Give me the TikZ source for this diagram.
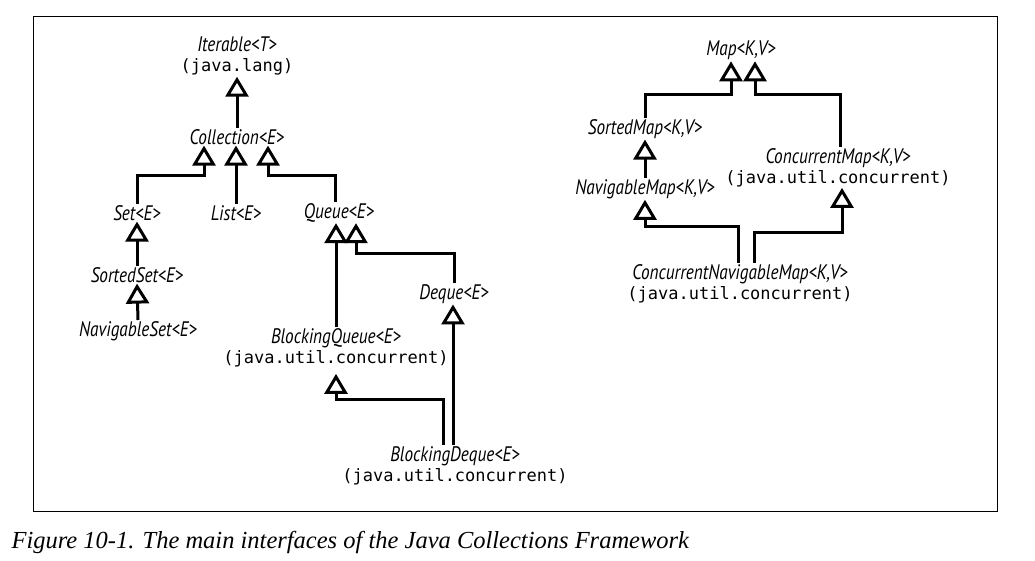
\documentclass[tikz,border=0pt]{standalone}
\usepackage{fontspec}
\setmainfont{Liberation Serif}
\newfontfamily\ifacefont[FakeStretch=0.82]{PT Sans}
\newfontfamily\pkgfont{DejaVu Sans Mono}
\usetikzlibrary{arrows.meta}

\newcommand{\pkgline}{{\pkgfont\upshape\fontsize{17}{20}\selectfont(java.util.concurrent)}}

\tikzset{
  iface/.style={font=\ifacefont\itshape\fontsize{21}{20}\selectfont, inner sep=1pt, anchor=north, align=center},
  inh/.style={-{Triangle[open,width=23pt,length=20pt]}, line width=3pt},
}

\begin{document}
\begin{tikzpicture}[x=1pt,y=-1pt]
  \useasboundingbox (0,0) rectangle (1035,561);
  \draw [line width=1pt] (33,17) rectangle (997,511);

  % collections
  \node [iface] (iter) at (237,36) {Iterable<T>\\{\pkgfont\upshape\fontsize{17}{20}\selectfont(java.lang)}};
  \node [iface] (coll) at (237,128) {Collection<E>};
  \node [iface] (set) at (137,204) {Set<E>};
  \node [iface] (list) at (236,204) {List<E>};
  \node [iface] (queue) at (339,202) {Queue<E>};
  \node [iface] (sset) at (137,266) {SortedSet<E>};
  \node [iface] (nset) at (138,320) {NavigableSet<E>};
  \node [iface] (deque) at (454,283) {Deque<E>};
  \node [iface] (bq) at (336,327) {BlockingQueue<E>\\\pkgline};
  \node [iface] (bd) at (455,445) {BlockingDeque<E>\\\pkgline};

  \draw [inh] (coll.north) -- (iter.south);
  \draw [inh] (set.north) |- ([xshift=-33pt,yshift=-30pt]coll.south) -- ([xshift=-33pt]coll.south);
  \draw [inh] (list.north) -- (list.north |- coll.south);
  \draw [inh] ([xshift=-4pt]queue.north) |- ([xshift=31pt,yshift=-30pt]coll.south) -- ([xshift=31pt]coll.south);
  \draw [inh] (sset.north) -- (set.south);
  \draw [inh] (nset.north) -- (sset.south);
  \draw [inh] (bq.north) -- (bq.north |- queue.south);
  \draw [inh] (deque.north) |- ([xshift=17pt,yshift=-30pt]queue.south) -- ([xshift=17pt]queue.south);
  \draw [inh] ([xshift=-2pt]bd.north) -- ([xshift=-1pt]deque.south);
  \draw [inh] ([xshift=-12pt]bd.north) |- ([yshift=-32pt]bq.south) -- ([yshift=-6pt]bq.south);

  % maps
  \node [iface] (map) at (741,40) {Map<K,V>};
  \node [iface] (smap) at (645,118) {SortedMap<K,V>};
  \node [iface] (nmap) at (645,178) {NavigableMap<K,V>};
  \node [iface] (cmap) at (838,147) {ConcurrentMap<K,V>\\\pkgline};
  \node [iface] (cnm) at (740,263) {ConcurrentNavigableMap<K,V>\\\pkgline};

  \draw [inh] (smap.north) |- ([xshift=-10pt,yshift=-33pt]map.south) -- ([xshift=-10pt]map.south);
  \draw [inh] ([xshift=2pt]cmap.north) |- ([xshift=14pt,yshift=-33pt]map.south) -- ([xshift=14pt]map.south);
  \draw [inh] (nmap.north) -- (smap.south);
  \draw [inh] ([xshift=-2pt]cnm.north) |- ([yshift=-27pt]nmap.south) -- (nmap.south);
  \draw [inh] ([xshift=14pt]cnm.north) |- ([xshift=4pt,yshift=-45pt]cmap.south) -- ([xshift=4pt]cmap.south);

  \node [anchor=base west, font=\itshape\fontsize{24.5}{28}\selectfont] (cap) at (8,548)
    {Figure 10-1. The main interfaces of the Java Collections Framework};
\end{tikzpicture}
\end{document}
